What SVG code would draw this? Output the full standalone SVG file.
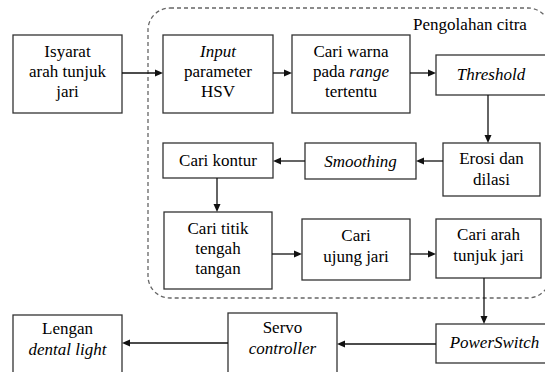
<svg xmlns="http://www.w3.org/2000/svg" width="545" height="372" viewBox="0 0 545 372">
<rect width="545" height="372" fill="#fff"/>
<g id="cluster">
<rect x="148" y="8" width="402" height="290" rx="22" ry="22" fill="none" stroke="#666" stroke-width="1.3" stroke-dasharray="4,3"/>
<text x="470" y="30" font-family="Liberation Serif" font-size="17" text-anchor="middle">Pengolahan citra</text>
</g>
<g id="isyarat"><rect x="13" y="35" width="109" height="78" fill="#fff" stroke="#333" stroke-width="1.3"/>
<text x="67.5" y="57" font-family="Liberation Serif" font-size="17" text-anchor="middle">Isyarat</text><text x="67.5" y="77" font-family="Liberation Serif" font-size="17" text-anchor="middle">arah tunjuk</text><text x="67.5" y="97" font-family="Liberation Serif" font-size="17" text-anchor="middle">jari</text></g>
<g id="input"><rect x="163" y="35" width="110" height="78" fill="#fff" stroke="#333" stroke-width="1.3"/>
<text x="218" y="57" font-family="Liberation Serif" font-size="17" text-anchor="middle" font-style="italic">Input</text><text x="218" y="77" font-family="Liberation Serif" font-size="17" text-anchor="middle">parameter</text><text x="218" y="97" font-family="Liberation Serif" font-size="17" text-anchor="middle">HSV</text></g>
<g id="cariwarna"><rect x="292" y="35" width="118" height="78" fill="#fff" stroke="#333" stroke-width="1.3"/>
<text x="351" y="57" font-family="Liberation Serif" font-size="17" text-anchor="middle">Cari warna</text><text x="351" y="77" font-family="Liberation Serif" font-size="17" text-anchor="middle">pada <tspan font-style="italic">range</tspan></text><text x="351" y="97" font-family="Liberation Serif" font-size="17" text-anchor="middle">tertentu</text></g>
<g id="threshold"><rect x="436" y="55" width="114" height="40" fill="#fff" stroke="#333" stroke-width="1.3"/>
<text x="491" y="80" font-family="Liberation Serif" font-size="17" text-anchor="middle" font-style="italic">Threshold</text></g>
<g id="erosi"><rect x="443" y="143" width="97" height="53" fill="#fff" stroke="#333" stroke-width="1.3"/>
<text x="491.5" y="164" font-family="Liberation Serif" font-size="17" text-anchor="middle">Erosi dan</text><text x="491.5" y="185" font-family="Liberation Serif" font-size="17" text-anchor="middle">dilasi</text></g>
<g id="smoothing"><rect x="305" y="143" width="111" height="36" fill="#fff" stroke="#333" stroke-width="1.3"/>
<text x="360.5" y="167" font-family="Liberation Serif" font-size="17" text-anchor="middle" font-style="italic">Smoothing</text></g>
<g id="carikontur"><rect x="163" y="143" width="110" height="35" fill="#fff" stroke="#333" stroke-width="1.3"/>
<text x="218" y="166" font-family="Liberation Serif" font-size="17" text-anchor="middle">Cari kontur</text></g>
<g id="caritititk"><rect x="164" y="212" width="108" height="77" fill="#fff" stroke="#333" stroke-width="1.3"/>
<text x="218" y="234" font-family="Liberation Serif" font-size="17" text-anchor="middle">Cari titik</text><text x="218" y="254" font-family="Liberation Serif" font-size="17" text-anchor="middle">tengah</text><text x="218" y="274" font-family="Liberation Serif" font-size="17" text-anchor="middle">tangan</text></g>
<g id="cariujung"><rect x="302" y="219" width="108" height="61" fill="#fff" stroke="#333" stroke-width="1.3"/>
<text x="356" y="241" font-family="Liberation Serif" font-size="17" text-anchor="middle">Cari</text><text x="356" y="262" font-family="Liberation Serif" font-size="17" text-anchor="middle">ujung jari</text></g>
<g id="cariarah"><rect x="436" y="219" width="105" height="59" fill="#fff" stroke="#333" stroke-width="1.3"/>
<text x="488.5" y="240" font-family="Liberation Serif" font-size="17" text-anchor="middle">Cari arah</text><text x="488.5" y="261" font-family="Liberation Serif" font-size="17" text-anchor="middle">tunjuk jari</text></g>
<g id="powerswitch"><rect x="436" y="324" width="114" height="39" fill="#fff" stroke="#333" stroke-width="1.3"/>
<text x="494.5" y="348" font-family="Liberation Serif" font-size="17" text-anchor="middle" font-style="italic">PowerSwitch</text></g>
<g id="servo"><rect x="228" y="313" width="109" height="62" fill="#fff" stroke="#333" stroke-width="1.3"/>
<text x="282.5" y="333" font-family="Liberation Serif" font-size="17" text-anchor="middle">Servo</text><text x="282.5" y="354" font-family="Liberation Serif" font-size="17" text-anchor="middle" font-style="italic">controller</text></g>
<g id="lengan"><rect x="13" y="315" width="109" height="60" fill="#fff" stroke="#333" stroke-width="1.3"/>
<text x="67.5" y="334" font-family="Liberation Serif" font-size="17" text-anchor="middle">Lengan</text><text x="67.5" y="355" font-family="Liberation Serif" font-size="17" text-anchor="middle" font-style="italic">dental light</text></g>
<g id="connectors" stroke="#111" stroke-width="1.3" fill="#111">
<line x1="122" y1="73" x2="156" y2="73"/><polygon points="163,73 155,69.5 155,76.5" stroke="none"/>
<line x1="273" y1="73" x2="285" y2="73"/><polygon points="292,73 284,69.5 284,76.5" stroke="none"/>
<line x1="410" y1="73" x2="429" y2="73"/><polygon points="436,73 428,69.5 428,76.5" stroke="none"/>
<line x1="488" y1="95" x2="488" y2="136"/><polygon points="488,143 484.5,135 491.5,135" stroke="none"/>
<line x1="443" y1="161" x2="423" y2="161"/><polygon points="416,161 424,157.5 424,164.5" stroke="none"/>
<line x1="305" y1="161" x2="280" y2="161"/><polygon points="273,161 281,157.5 281,164.5" stroke="none"/>
<line x1="217" y1="178" x2="217" y2="205"/><polygon points="217,212 213.5,204 220.5,204" stroke="none"/>
<line x1="272" y1="254" x2="295" y2="254"/><polygon points="302,254 294,250.5 294,257.5" stroke="none"/>
<line x1="410" y1="254" x2="429" y2="254"/><polygon points="436,254 428,250.5 428,257.5" stroke="none"/>
<line x1="484" y1="278" x2="484" y2="317"/><polygon points="484,324 480.5,316 487.5,316" stroke="none"/>
<line x1="436" y1="344" x2="344" y2="344"/><polygon points="337,344 345,340.5 345,347.5" stroke="none"/>
<line x1="228" y1="343" x2="129" y2="343"/><polygon points="122,343 130,339.5 130,346.5" stroke="none"/>
</g>
</svg>
